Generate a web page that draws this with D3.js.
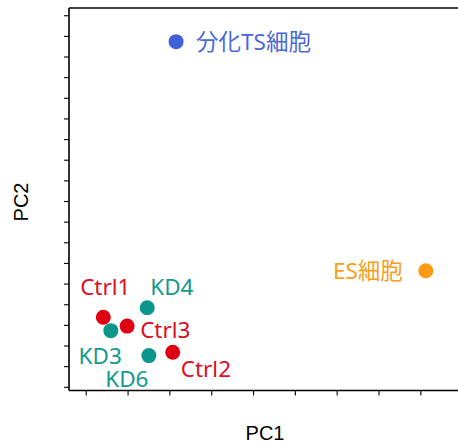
<!DOCTYPE html>
<html><head><meta charset="utf-8">
<script src="https://cdn.jsdelivr.net/npm/d3@7"></script>
<style>
html,body{margin:0;padding:0;background:#fff;}
svg{display:block;}
</style></head>
<body>
<svg id="chart" width="458" height="443"></svg>
<script>
// Data (arbitrary PCA units; ticks are unlabeled)
const samples = ["分化TS細胞", "ES細胞", "Ctrl1", "KD4", "Ctrl3", "KD3", "KD6", "Ctrl2"];
const groups  = ["TS", "ES", "Ctrl", "KD", "Ctrl", "KD", "KD", "Ctrl"];
const pc1 = [-18.4, 41.3, -35.8, -25.3, -30.1, -34.0, -24.9, -19.2];
const pc2 = [77.2, -33.8, -56.3, -51.7, -60.6, -62.8, -74.9, -73.3];
const xTicks = [-40, -30, -20, -10, 0, 10, 20, 30, 40];
const yTicks = d3.range(-90, 91, 10);

const colors = {TS: "#4262d9", ES: "#fb9b14", Ctrl: "#de0012", KD: "#0a968a"};
const textColors = {TS: "#4a68dc", ES: "#fa9d1c", Ctrl: "#e00c1c", KD: "#12998c"};
// label placement: [dx, dy, anchor]
const labelPos = {
  "分化TS細胞": [20, 8, "start"],
  "ES細胞": [-23, 8, "end"],
  "Ctrl1": [2, -22, "middle"],
  "KD4": [3, -13, "start"],
  "Ctrl3": [13, 12, "start"],
  "KD3": [11, 33, "end"],
  "KD6": [-22, 31, "middle"],
  "Ctrl2": [8, 25, "start"]
};

const svg = d3.select("#chart");
const mLeft = 69, mRight = 458, mTop = 8, mBottom = 390.5;
const x = d3.scaleLinear().domain([-44, 49]).range([mLeft, mRight]);
const y = d3.scaleLinear().domain([-91.8, 93.5]).range([mBottom, mTop]);

// top frame line
svg.append("line").attr("x1", mLeft).attr("x2", mRight).attr("y1", mTop).attr("y2", mTop)
  .attr("stroke", "#000").attr("stroke-width", 1.6);

const xAxis = svg.append("g").attr("transform", `translate(0,${mBottom})`)
  .call(d3.axisBottom(x).tickValues(xTicks).tickSize(5).tickFormat("").tickSizeOuter(0));
const yAxis = svg.append("g").attr("transform", `translate(${mLeft},0)`)
  .call(d3.axisLeft(y).tickValues(yTicks).tickSize(5).tickFormat("").tickSizeOuter(0));
[xAxis, yAxis].forEach(g => {
  g.select(".domain").attr("stroke", "#000").attr("stroke-width", 1.6);
  g.selectAll(".tick line").attr("stroke", "#000").attr("stroke-width", 1.1);
});
xAxis.select(".domain").attr("d", `M${mLeft},0H${mRight}`);
yAxis.select(".domain").attr("d", `M0,${mTop}V${mBottom}`);

// axis titles
svg.append("text").attr("x", 265).attr("y", 440).attr("text-anchor", "middle")
  .attr("font-family", "Liberation Sans, Arial, sans-serif").attr("font-size", 20)
  .attr("fill", "#000").text("PC1");
svg.append("text").attr("transform", "translate(28,202) rotate(-90)").attr("text-anchor", "middle")
  .attr("font-family", "Liberation Sans, Arial, sans-serif").attr("font-size", 20)
  .attr("fill", "#000").text("PC2");

const data = samples.map((s, i) => ({name: s, group: groups[i], x: pc1[i], y: pc2[i]}));

svg.append("g").selectAll("circle").data(data).join("circle")
  .attr("cx", d => x(d.x)).attr("cy", d => y(d.y)).attr("r", 7.5)
  .attr("fill", d => colors[d.group]);

svg.append("g").selectAll("text").data(data).join("text")
  .attr("x", d => x(d.x) + labelPos[d.name][0])
  .attr("y", d => y(d.y) + labelPos[d.name][1])
  .attr("text-anchor", d => labelPos[d.name][2])
  .attr("font-family", "'Noto Sans', 'Noto Sans CJK JP', sans-serif")
  .attr("font-size", 22.5)
  .attr("fill", d => textColors[d.group])
  .text(d => d.name);
</script>
</body></html>
